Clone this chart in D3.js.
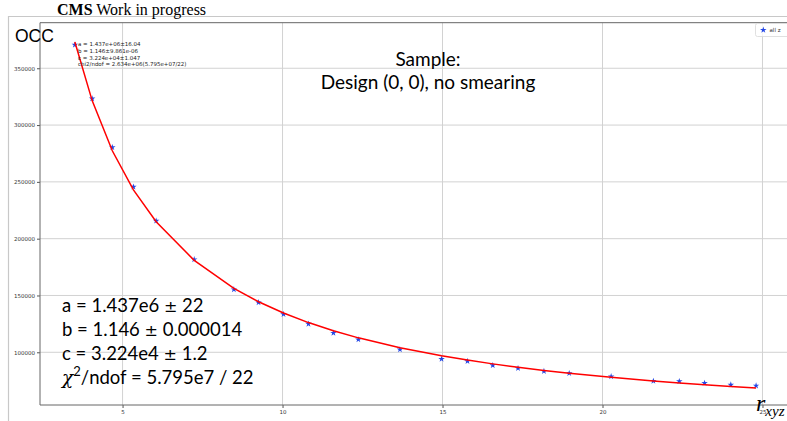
<!DOCTYPE html>
<html>
<head>
<meta charset="utf-8">
<script src="https://cdn.jsdelivr.net/npm/d3@7"></script>
<style>
  html, body { margin: 0; padding: 0; background: #ffffff; }
  svg { display: block; }
</style>
</head>
<body>
<svg id="chart" width="787" height="421"></svg>
<script>
// Occupancy vs r_xyz, all z, with fitted curve a * r^(-b) + c
const rxyz = [3.51, 4.05, 4.68, 5.34, 6.05, 7.24, 8.48, 9.25, 10.03, 10.81, 11.59, 12.37,
              13.67, 14.97, 15.78, 16.57, 17.36, 18.17, 18.96, 20.27, 21.59, 22.40, 23.19, 24.01, 24.80];
const occ  = [370600, 323300, 280400, 245600, 215700, 181700, 155300, 143800, 133500, 125000, 117000, 111200,
              102400, 94100, 92100, 88500, 85900, 83300, 81500, 78700, 74700, 74400, 72900, 71400, 70600];

// Fit parameters as printed on the plot
const fitA = 1.437e6, fitB = 1.146, fitC = 3.224e4;

const xTicks = [5, 10, 15, 20, 25];
const yTicks = [100000, 150000, 200000, 250000, 300000, 350000];

const smallFitLines = [
  "a = 1.437e+06\u00b116.04",
  "b = 1.146\u00b19.861e-06",
  "c = 3.224e+04\u00b11.047",
  "chi2/ndof = 2.634e+06(5.795e+07/22)"
];
const bigFitLines = [
  ["a = 1.437e6 ", "\u00b1", " 22"],
  ["b = 1.146 ", "\u00b1", " 0.000014"],
  ["c = 3.224e4 ", "\u00b1", " 1.2"]
];

const svg = d3.select("#chart");

// outer page frame
svg.append("line").attr("x1", 8).attr("x2", 787).attr("y1", 16.5).attr("y2", 16.5)
  .attr("stroke", "#c8c8c8").attr("stroke-width", 1.2);
svg.append("line").attr("x1", 8.5).attr("x2", 8.5).attr("y1", 16).attr("y2", 421)
  .attr("stroke", "#c8c8c8").attr("stroke-width", 1.2);

// header
const hdr = svg.append("text").attr("x", 57).attr("y", 15)
  .attr("font-family", "'Liberation Serif', 'Times New Roman', serif").attr("font-size", 16).attr("fill", "#000");
hdr.append("tspan").attr("font-weight", "bold").text("CMS");
hdr.append("tspan").text(" Work in progress");

const axL = 40, axR = 790, axT = 22.7, axB = 405;
const x = d3.scaleLinear().domain([2.42, 25.86]).range([axL, axR]);
const y = d3.scaleLinear().domain([53600, 390100]).range([axB, axT]);

const plot = svg.append("g");

// grid
plot.append("g").selectAll("line").data(xTicks).join("line")
  .attr("x1", d => x(d)).attr("x2", d => x(d)).attr("y1", axT).attr("y2", axB)
  .attr("stroke", "#d2d2d2").attr("stroke-width", 1);
plot.append("g").selectAll("line").data(yTicks).join("line")
  .attr("x1", axL).attr("x2", axR).attr("y1", d => y(d)).attr("y2", d => y(d))
  .attr("stroke", "#d2d2d2").attr("stroke-width", 1);

// axes
const xAxis = d3.axisBottom(x).tickValues(xTicks).tickSize(3).tickPadding(2).tickFormat(d3.format("d"));
const yAxis = d3.axisLeft(y).tickValues(yTicks).tickSize(3).tickPadding(2).tickFormat(d3.format("d"));
const gx = plot.append("g").attr("transform", `translate(0,${axB})`).call(xAxis);
const gy = plot.append("g").attr("transform", `translate(${axL},0)`).call(yAxis);
[gx, gy].forEach(g => {
  g.select(".domain").remove();
  g.selectAll(".tick line").attr("stroke", "#555");
  g.selectAll(".tick text").attr("font-family", "'DejaVu Sans', sans-serif").attr("font-size", 5.5).attr("fill", "#333");
});

// spines
plot.append("line").attr("x1", axL).attr("x2", axL).attr("y1", axT).attr("y2", axB)
  .attr("stroke", "#666").attr("stroke-width", 1);
plot.append("line").attr("x1", axL).attr("x2", axR).attr("y1", axB).attr("y2", axB)
  .attr("stroke", "#666").attr("stroke-width", 1);
plot.append("line").attr("x1", axL).attr("x2", axR).attr("y1", axT).attr("y2", axT)
  .attr("stroke", "#666").attr("stroke-width", 1);

// data points
const star = d3.symbol().type(d3.symbolStar).size(13);
plot.append("g").selectAll("path").data(rxyz).join("path")
  .attr("d", star)
  .attr("transform", (d, i) => `translate(${x(d)},${y(occ[i])})`)
  .attr("fill", "#2447e6");

// fitted curve evaluated at each point
const fitPts = rxyz.map(r => [r, fitA * Math.pow(r, -fitB) + fitC]);
plot.append("path").datum(fitPts)
  .attr("d", d3.line().x(d => x(d[0])).y(d => y(d[1])))
  .attr("fill", "none").attr("stroke", "#ff0000").attr("stroke-width", 1.5);

// small fit summary
plot.append("g").selectAll("text").data(smallFitLines).join("text")
  .attr("x", 78).attr("y", (d, i) => 46.3 + i * 6.6)
  .attr("font-family", "'DejaVu Sans', sans-serif").attr("font-size", 5.5).attr("fill", "#222")
  .text(d => d);

// legend
const lg = svg.append("g");
lg.append("rect").attr("x", 755.5).attr("y", 23.5).attr("width", 50).attr("height", 13).attr("rx", 2)
  .attr("fill", "#fff").attr("fill-opacity", 0.8).attr("stroke", "#d8d8d8").attr("stroke-width", 0.8);
lg.append("path").attr("d", star).attr("transform", "translate(763.3,30)").attr("fill", "#2447e6");
lg.append("text").attr("x", 769.5).attr("y", 32).attr("font-family", "'DejaVu Sans', sans-serif")
  .attr("font-size", 5.5).attr("fill", "#333").text("all z");

// y label
svg.append("text").attr("x", 15).attr("y", 41.5).attr("font-family", "'Liberation Sans', Arial, sans-serif")
  .attr("font-size", 17.5).attr("fill", "#000").text("OCC");

// sample caption
const cap = svg.append("g").attr("font-family", "Lato, 'Open Sans', sans-serif").attr("font-size", 19)
  .attr("fill", "#000").attr("text-anchor", "middle");
cap.append("text").attr("x", 428).attr("y", 66).text("Sample:");
cap.append("text").attr("x", 428).attr("y", 89).text("Design (0, 0), no smearing");

// large fit summary
const big = svg.append("g").attr("font-family", "Lato, 'Open Sans', sans-serif").attr("font-size", 18.5).attr("fill", "#000");
bigFitLines.forEach((parts, i) => {
  const t = big.append("text").attr("x", 62).attr("y", 312 + i * 24);
  t.append("tspan").text(parts[0]);
  t.append("tspan").attr("font-family", "'DejaVu Sans', sans-serif").attr("font-size", 16).text(parts[1]);
  t.append("tspan").text(parts[2]);
});
const chi = big.append("text").attr("x", 62).attr("y", 384);
chi.append("tspan").attr("font-family", "'DejaVu Serif', serif").attr("font-style", "italic").text("\u03c7");
chi.append("tspan").attr("font-size", 13).attr("dy", -8).text("2");
chi.append("tspan").attr("dy", 8).text("/ndof = 5.795e7 / 22");

// x label
const xl = svg.append("text").attr("x", 756).attr("y", 411)
  .attr("font-family", "'Liberation Serif', serif").attr("font-style", "italic").attr("fill", "#000");
xl.append("tspan").attr("font-size", 24).text("r");
xl.append("tspan").attr("font-size", 15).attr("dy", 5).text("xyz");
</script>
</body>
</html>
